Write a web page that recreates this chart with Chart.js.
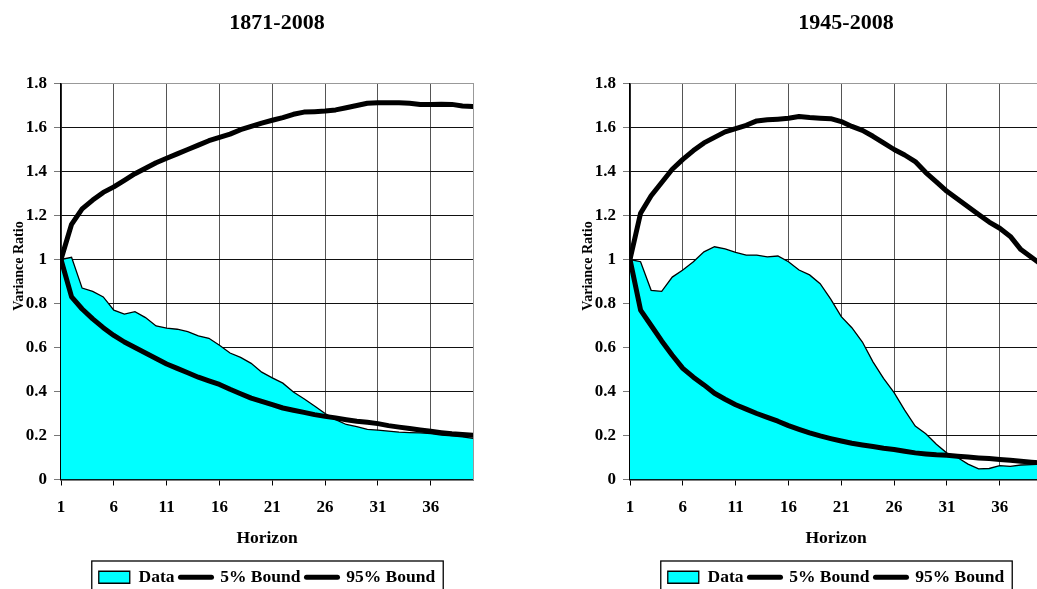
<!DOCTYPE html>
<html>
<head>
<meta charset="utf-8">
<script src="https://cdn.jsdelivr.net/npm/chart.js@4.4.0/dist/chart.umd.min.js"></script>
<style>
  html, body { margin: 0; padding: 0; background: #fff; }
  #wrap { position: relative; width: 1037px; height: 589px; overflow: hidden; background: #fff; }
  .panel { position: absolute; top: 0; width: 554px; height: 600px; }
  #left { left: 0; }
  #right { left: 569px; }
</style>
</head>
<body>
<div id="wrap">
  <div class="panel" id="left"><canvas id="chart1" width="554" height="600"></canvas></div>
  <div class="panel" id="right"><canvas id="chart2" width="554" height="600"></canvas></div>
</div>
<script>
// horizons 1..40 and the labelled ones
var horizon = [1,2,3,4,5,6,7,8,9,10,11,12,13,14,15,16,17,18,19,20,
               21,22,23,24,25,26,27,28,29,30,31,32,33,34,35,36,37,38,39,40];
var xTicks = [1, 6, 11, 16, 21, 26, 31, 36];
var yTicks = [0, 0.2, 0.4, 0.6, 0.8, 1, 1.2, 1.4, 1.6, 1.8];

// 1871-2008
var data1871 = [1.0, 1.01, 0.87, 0.855, 0.83, 0.77, 0.752, 0.763, 0.736, 0.698,
                0.688, 0.683, 0.672, 0.653, 0.642, 0.61, 0.575, 0.555, 0.528, 0.488,
                0.462, 0.438, 0.398, 0.367, 0.334, 0.3, 0.272, 0.25, 0.24, 0.228,
                0.224, 0.22, 0.215, 0.213, 0.212, 0.209, 0.202, 0.198, 0.194, 0.187];
var low1871 = [1.0, 0.83, 0.775, 0.73, 0.69, 0.655, 0.625, 0.60, 0.575, 0.55,
               0.525, 0.505, 0.485, 0.465, 0.448, 0.432, 0.41, 0.39, 0.37, 0.355,
               0.34, 0.325, 0.315, 0.305, 0.295, 0.287, 0.28, 0.272, 0.265, 0.26,
               0.254, 0.245, 0.238, 0.232, 0.225, 0.219, 0.213, 0.208, 0.205, 0.201];
var high1871 = [1.0, 1.16, 1.23, 1.27, 1.305, 1.33, 1.36, 1.39, 1.415, 1.44,
                1.46, 1.48, 1.50, 1.52, 1.54, 1.555, 1.57, 1.59, 1.605, 1.62,
                1.633, 1.645, 1.66, 1.67, 1.672, 1.675, 1.68, 1.69, 1.70, 1.71,
                1.713, 1.712, 1.712, 1.71, 1.705, 1.705, 1.706, 1.705, 1.698, 1.695];

// 1945-2008
var data1945 = [1.0, 0.99, 0.86, 0.855, 0.92, 0.952, 0.99, 1.035, 1.058, 1.048,
                1.032, 1.02, 1.02, 1.012, 1.016, 0.99, 0.952, 0.93, 0.89, 0.82,
                0.74, 0.69, 0.625, 0.535, 0.46, 0.395, 0.315, 0.243, 0.208, 0.16,
                0.12, 0.1, 0.07, 0.048, 0.05, 0.063, 0.06, 0.066, 0.068, 0.07];
var low1945 = [1.0, 0.77, 0.70, 0.63, 0.565, 0.505, 0.465, 0.43, 0.392, 0.365,
               0.34, 0.32, 0.3, 0.282, 0.265, 0.245, 0.228, 0.212, 0.198, 0.186,
               0.175, 0.165, 0.157, 0.15, 0.142, 0.136, 0.128, 0.121, 0.116, 0.112,
               0.11, 0.106, 0.102, 0.098, 0.095, 0.091, 0.087, 0.083, 0.079, 0.075];
var high1945 = [1.0, 1.21, 1.29, 1.35, 1.41, 1.455, 1.495, 1.53, 1.555, 1.58,
                1.595, 1.61, 1.63, 1.635, 1.638, 1.642, 1.65, 1.645, 1.642, 1.64,
                1.627, 1.605, 1.587, 1.56, 1.53, 1.5, 1.475, 1.445, 1.395, 1.353,
                1.31, 1.275, 1.24, 1.205, 1.17, 1.142, 1.105, 1.045, 1.01, 0.975];

var serif = 'Liberation Serif';

// box round the legend, like the excel one
var legendBox = {
    id: 'legendBox',
    afterDraw: function(chart) {
        var hb = chart.legend.legendHitBoxes;
        if (!hb || !hb.length) return;
        var last = hb[hb.length - 1];
        var left = hb[0].left - 7;
        var right = last.left + last.width + 8;
        var top = hb[0].top - 7.5;
        var c = chart.ctx;
        c.save();
        c.strokeStyle = '#000';
        c.lineWidth = 1.3;
        c.strokeRect(left, top, right - left, hb[0].height + 15);
        c.restore();
    }
};

// rotated y title, sits a bit above the middle of the axis
var yLabel = {
    id: 'yLabel',
    afterDraw: function(chart) {
        var c = chart.ctx;
        c.save();
        c.translate(19, 266);
        c.rotate(-Math.PI / 2);
        c.font = 'bold 14px "' + serif + '"';
        c.fillStyle = '#000';
        c.textAlign = 'center';
        c.textBaseline = 'middle';
        c.fillText('Variance Ratio', 0, 0);
        c.restore();
    }
};

function points(vals) {
    return horizon.map(function(h, i) { return { x: h, y: vals[i] }; });
}

function makeChart(id, title, dataVals, lowVals, highVals) {
    return new Chart(document.getElementById(id), {
        type: 'line',
        data: {
            datasets: [
                { label: '95% Bound', data: points(highVals), borderColor: '#000', borderWidth: 5,
                  fill: false, pointRadius: 0, borderCapStyle: 'round', borderJoinStyle: 'round' },
                { label: '5% Bound', data: points(lowVals), borderColor: '#000', borderWidth: 5,
                  fill: false, pointRadius: 0, borderCapStyle: 'round', borderJoinStyle: 'round' },
                { label: 'Data', data: points(dataVals), borderColor: '#000', borderWidth: 1.3,
                  backgroundColor: '#00FFFF', fill: 'origin', pointRadius: 0 }
            ]
        },
        options: {
            responsive: false,
            animation: false,
            layout: { padding: { top: 0, left: 0, right: 0, bottom: 4 } },
            scales: {
                x: {
                    type: 'linear', min: 1, max: 40,
                    afterBuildTicks: function(s) { s.ticks = xTicks.map(function(v) { return { value: v }; }); },
                    afterFit: function(s) { s.height = 83; },
                    grid: { color: '#555', lineWidth: 1, tickLength: 6, tickColor: '#000' },
                    border: { color: '#000', width: 1.5 },
                    ticks: { padding: 12, color: '#000', maxRotation: 0,
                             font: { family: serif, weight: 'bold', size: 17 } },
                    title: { display: true, text: 'Horizon', color: '#000',
                             font: { family: serif, weight: 'bold', size: 17.5 },
                             padding: { top: 0, bottom: 13.5 } }
                },
                y: {
                    min: 0, max: 1.8,
                    afterBuildTicks: function(s) { s.ticks = yTicks.map(function(v) { return { value: v }; }); },
                    afterFit: function(s) { s.width = 61; },
                    grid: {
                        color: function(ctx) { return ctx.tick && ctx.tick.value > 1.79 ? '#999' : '#111'; },
                        lineWidth: 1, tickLength: 7, tickColor: '#777'
                    },
                    border: { color: '#000', width: 1.5 },
                    ticks: { padding: 7, color: '#000',
                             font: { family: serif, weight: 'bold', size: 17 },
                             callback: function(v) { return String(Math.round(v * 10) / 10); } }
                },
                y2: {
                    position: 'right', min: 0, max: 1.8,
                    afterFit: function(s) { s.width = 81; },
                    grid: { display: false },
                    ticks: { display: false },
                    border: { color: '#999', width: 1 }
                }
            },
            plugins: {
                title: {
                    display: true, text: title, color: '#000',
                    font: { family: serif, weight: 'bold', size: 22 },
                    padding: { top: 9.8, bottom: 47.3 }
                },
                legend: {
                    position: 'bottom', fullSize: false,
                    labels: {
                        usePointStyle: true, pointStyleWidth: 31, boxWidth: 31, boxHeight: 12,
                        padding: 6, color: '#000',
                        font: { family: serif, weight: 'bold', size: 17.5 },
                        generateLabels: function(chart) {
                            return [
                                { text: 'Data', fillStyle: '#00FFFF', strokeStyle: '#000', lineWidth: 1.3,
                                  pointStyle: 'rect', datasetIndex: 2 },
                                { text: '5% Bound', fillStyle: '#000', strokeStyle: '#000', lineWidth: 5,
                                  lineCap: 'round', pointStyle: 'line', datasetIndex: 1 },
                                { text: '95% Bound', fillStyle: '#000', strokeStyle: '#000', lineWidth: 5,
                                  lineCap: 'round', pointStyle: 'line', datasetIndex: 0 }
                            ];
                        }
                    }
                },
                tooltip: { enabled: false }
            }
        },
        plugins: [legendBox, yLabel]
    });
}

makeChart('chart1', '1871-2008', data1871, low1871, high1871);
makeChart('chart2', '1945-2008', data1945, low1945, high1945);
</script>
</body>
</html>
